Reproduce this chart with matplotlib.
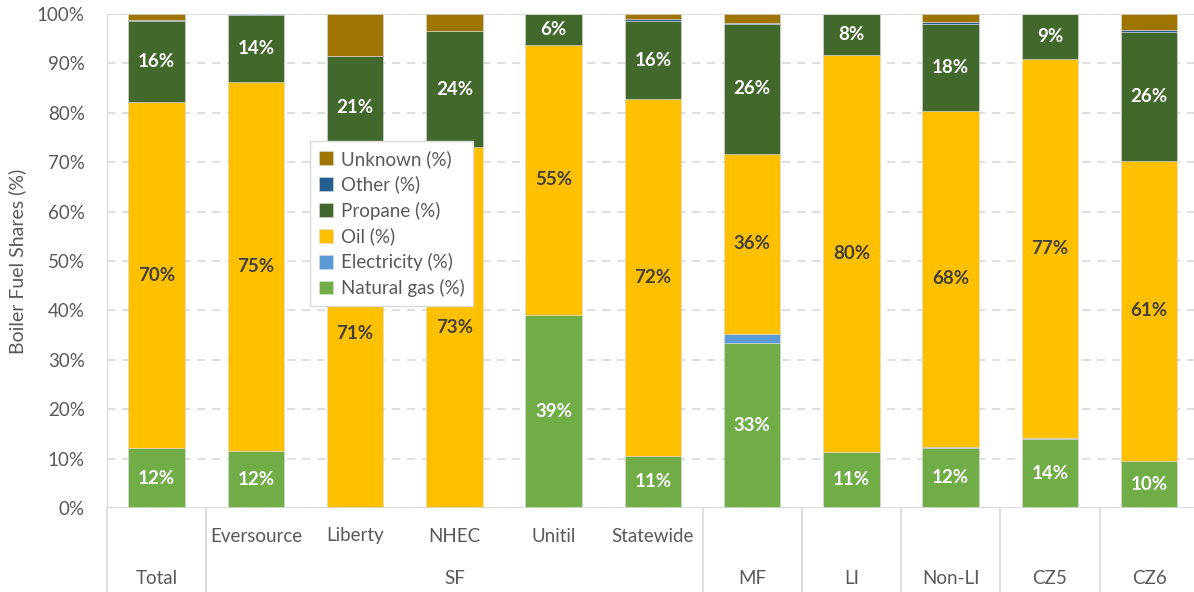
import matplotlib
matplotlib.use("Agg")
from matplotlib import pyplot as plt
import numpy as np

plt.rcParams['font.family'] = ['Lato', 'DejaVu Sans']

categories = ['Total', 'Eversource', 'Liberty', 'NHEC', 'Unitil', 'Statewide',
              'MF', 'LI', 'Non-LI', 'CZ5', 'CZ6']
groups = ['Total', 'SF', 'MF', 'LI', 'Non-LI', 'CZ5', 'CZ6']
group_sizes = [1, 5, 1, 1, 1, 1, 1]

natural_gas = [12.1, 11.6, 0.0, 0.0, 39.1, 10.6, 33.4, 11.4, 12.2, 14.0, 9.6]
electricity = [0.1, 0.0, 0.0, 0.0, 0.0, 0.0, 1.9, 0.0, 0.2, 0.2, 0.0]
oil = [69.9, 74.55, 70.6, 73.0, 54.7, 72.1, 36.4, 80.2, 68.0, 76.6, 60.6]
propane = [16.4, 13.6, 20.9, 23.6, 6.2, 15.8, 26.3, 8.4, 17.6, 9.2, 26.2]
other = [0.2, 0.25, 0.0, 0.0, 0.0, 0.4, 0.1, 0.0, 0.3, 0.0, 0.4]
unknown = [1.3, 0.0, 8.5, 3.4, 0.0, 1.1, 1.9, 0.0, 1.7, 0.0, 3.2]

series = [
    ('Natural gas (%)', natural_gas, '#70AD47', 'white'),
    ('Electricity (%)', electricity, '#5B9BD5', None),
    ('Oil (%)', oil, '#FFC000', '#404040'),
    ('Propane (%)', propane, '#43682B', 'white'),
    ('Other (%)', other, '#255E91', None),
    ('Unknown (%)', unknown, '#9E7500', None),
]

fig = plt.figure(figsize=(11.94, 5.92), dpi=100)
ax = fig.add_axes([107 / 1194, 84 / 592, 1 - 107 / 1194 + 0.004, 494 / 592])

x = np.arange(len(categories))
bottom = np.zeros(len(categories))
for name, vals, color, lab_color in series:
    vals = np.array(vals)
    ax.bar(x, vals, 0.57, bottom=bottom, color=color, label=name,
           edgecolor='#d9d9d9', linewidth=0.4, zorder=3)
    if lab_color is not None:
        for xi, v, b in zip(x, vals, bottom):
            if v >= 5:
                ax.text(xi, b + v / 2, f"{round(v)}%", ha='center', va='center',
                        color=lab_color, fontsize=13.5, fontweight='bold', zorder=4)
    bottom += vals

ax.set_xlim(-0.5, len(categories) - 0.5)
ax.set_ylim(0, 100)
ax.set_yticks(range(0, 101, 10))
ax.set_yticklabels([f"{t}%" for t in range(0, 101, 10)], fontsize=13.5, color='#595959')
ax.yaxis.grid(True, linestyle=(0, (5, 4)), color='#d9d9d9', linewidth=1.2, zorder=0)
ax.tick_params(axis='y', length=0, pad=16)
ax.set_xticks([])
for side in ['top', 'right', 'bottom']:
    ax.spines[side].set_visible(False)
ax.spines['left'].set_color('#d9d9d9')
ax.axhline(100, color='#d9d9d9', linewidth=1.2, zorder=1)
ax.axhline(0, color='#d9d9d9', linewidth=1.2, zorder=5)
ax.set_ylabel('Boiler Fuel Shares (%)', fontsize=14, color='#595959', labelpad=8)

# two-level category axis
trans = ax.get_xaxis_transform()
sub_y = -28 / 494
grp_y = -70 / 494
line_bottom = -84 / 494
pos = 0
edges = [-0.5]
for g, n in zip(groups, group_sizes):
    if n > 1:
        for i in range(pos, pos + n):
            ax.text(i, sub_y, categories[i], transform=trans, ha='center', va='center',
                    fontsize=13.5, color='#595959')
    ax.text(pos + (n - 1) / 2, grp_y, g, transform=trans, ha='center', va='center',
            fontsize=13.5, color='#595959')
    pos += n
    edges.append(pos - 0.5)
for e in edges[:-1]:
    ax.plot([e, e], [0, line_bottom], transform=trans, color='#d9d9d9',
            linewidth=1.2, clip_on=False)

handles, labels = ax.get_legend_handles_labels()
leg = ax.legend(handles[::-1], labels[::-1], loc='upper left',
                bbox_to_anchor=(0.186, 0.742), fontsize=13.5, frameon=True,
                fancybox=False, edgecolor='#d9d9d9', framealpha=1,
                handlelength=0.75, handleheight=0.75, handletextpad=0.45,
                labelspacing=0.42, borderpad=0.45, borderaxespad=0)
for t in leg.get_texts():
    t.set_color('#595959')
leg.set_zorder(10)

fig.savefig('out.png', dpi=100)
